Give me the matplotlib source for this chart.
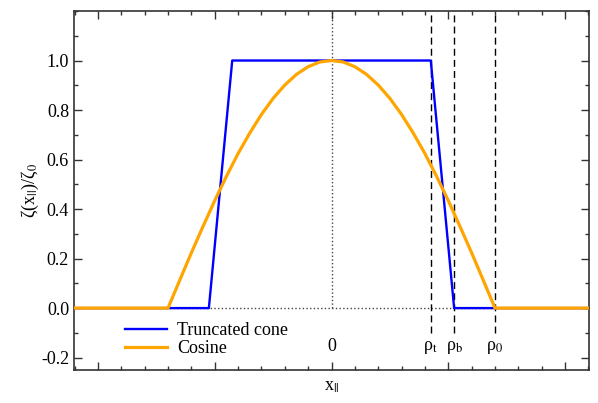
import matplotlib
matplotlib.use("Agg")
from matplotlib import pyplot as plt
from matplotlib.ticker import MultipleLocator

plt.rcParams['font.family'] = ['Liberation Serif', 'DejaVu Serif']
plt.rcParams['mathtext.fontset'] = 'stix'

# shape profiles
cone_x = [-2.2, -1.05, -0.85, 0.85, 1.05, 2.2]
cone_y = [0.0, 0.0, 1.0, 1.0, 0.0, 0.0]

cos_x = [-2.2, -1.4, -1.3, -1.2, -1.1, -1.0, -0.9, -0.8, -0.7, -0.6, -0.5,
         -0.4, -0.3, -0.2, -0.1, 0.0, 0.1, 0.2, 0.3, 0.4, 0.5, 0.6, 0.7,
         0.8, 0.9, 1.0, 1.1, 1.2, 1.3, 1.4, 2.2]
cos_y = [0.0, 0.0, 0.112, 0.223, 0.330, 0.434, 0.532, 0.624, 0.707, 0.782,
         0.847, 0.901, 0.944, 0.975, 0.994, 1.0, 0.994, 0.975, 0.944, 0.901,
         0.847, 0.782, 0.707, 0.624, 0.532, 0.434, 0.330, 0.223, 0.112, 0.0,
         0.0]

rho_pos = [0.85, 1.05, 1.4]
rho_labels = [r'ρ$_{\mathrm{t}}$', r'ρ$_{\mathrm{b}}$', r'ρ$_{\mathrm{0}}$']
y_ticks = [-0.2, 0.0, 0.2, 0.4, 0.6, 0.8, 1.0]

fig = plt.figure(figsize=(5.98, 4.03), dpi=100)
ax = fig.add_axes([0.1237, 0.0819, 0.8613, 0.8908])

axis_col = '#333333'
ax.axhline(0, color='#444444', ls=':', lw=1.0, zorder=1)
ax.vlines(0, 0, 1.2, color='#444444', ls=':', lw=1.0, zorder=1)
ax.vlines(rho_pos, -0.1, 1.2, color='black', ls=(0, (5, 3)), lw=1.0, zorder=1)

ax.plot(cone_x, cone_y, color='#0000ff', lw=1.7, label='Truncated cone', zorder=3)
ax.plot(cos_x, cos_y, color='#ffa500', lw=2.3, label='Cosine', zorder=4)

ax.text(0, -0.155, '0', ha='center', va='center', fontsize=13)
for xp, lab in zip(rho_pos, rho_labels):
    ax.text(xp, -0.16, lab, ha='center', va='center', fontsize=13)

ax.set_xlim(-2.205, 2.205)
ax.set_ylim(-0.25, 1.2)
ax.set_yticks(y_ticks)
ax.set_yticklabels([f'{v:.1f}' for v in y_ticks])
ax.yaxis.set_minor_locator(MultipleLocator(0.1))
ax.xaxis.set_major_locator(MultipleLocator(1))
ax.xaxis.set_minor_locator(MultipleLocator(0.2))
ax.tick_params(which='both', direction='in', top=True, right=True,
               color=axis_col, width=1.0, labelsize=13, labelbottom=False)
ax.tick_params(which='major', length=6)
ax.tick_params(which='minor', length=3)
for sp in ax.spines.values():
    sp.set_color(axis_col)
    sp.set_linewidth(1.2)

ax.set_xlabel(r'x$_{||}$', fontsize=13, labelpad=6)
ax.set_ylabel(r'ζ(x$_{||}$)/ζ$_{0}$', fontsize=13, labelpad=0)

ax.legend(loc='lower left', bbox_to_anchor=(0.085, 0.015), frameon=False,
          fontsize=13, handlelength=2.3, labelspacing=0.05, handletextpad=0.6,
          borderaxespad=0)

fig.savefig('out.png', dpi=100)
